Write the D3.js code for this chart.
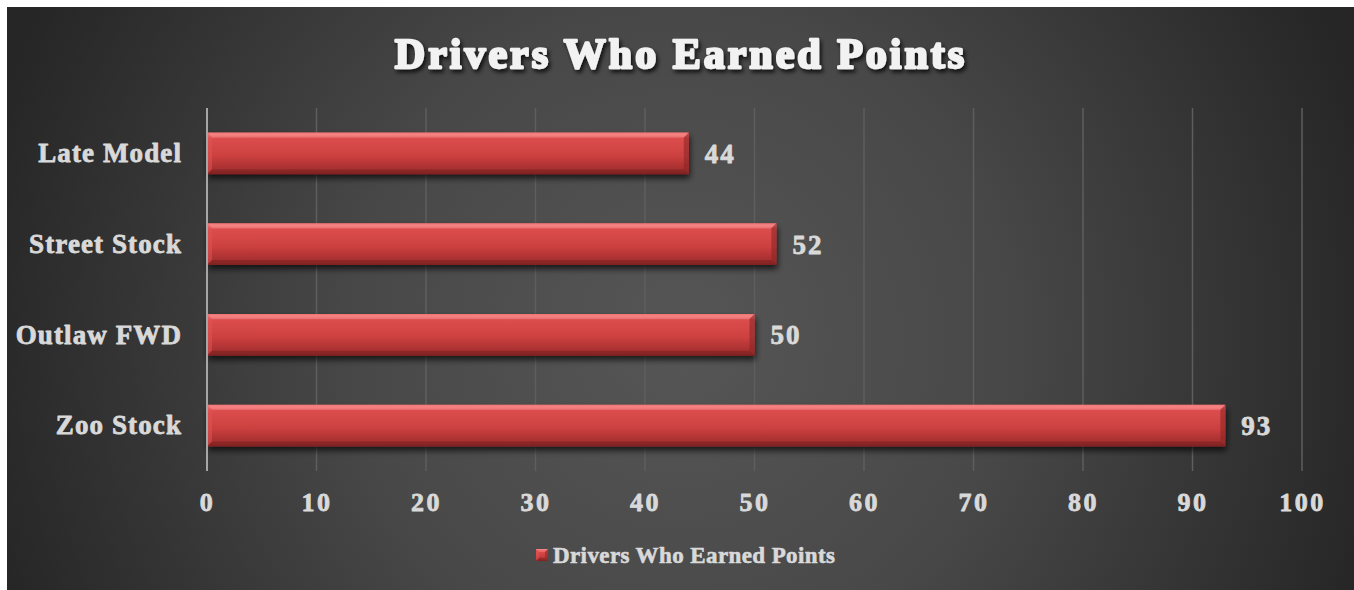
<!DOCTYPE html>
<html>
<head>
<meta charset="utf-8">
<script src="https://cdn.jsdelivr.net/npm/d3@7"></script>
<style>
  html, body { margin: 0; padding: 0; background: #fff; }
  svg { display: block; }
</style>
</head>
<body>
<svg id="chart" width="1354" height="590"></svg>
<script>
// data
const categories = ["Late Model", "Street Stock", "Outlaw FWD", "Zoo Stock"];
const values = [44, 52, 50, 93];
const xTicks = [0, 10, 20, 30, 40, 50, 60, 70, 80, 90, 100];
const seriesName = "Drivers Who Earned Points";
const titleText = "Drivers Who Earned Points";

const svg = d3.select("#chart");
const W = +svg.attr("width"), H = +svg.attr("height");
const FONT = "'Liberation Serif', 'Times New Roman', serif";

const defs = svg.append("defs");

// background radial
const bg = defs.append("radialGradient")
  .attr("id", "bg").attr("gradientUnits", "userSpaceOnUse")
  .attr("cx", 680).attr("cy", 340).attr("r", 720);
bg.append("stop").attr("offset", "0").attr("stop-color", "#565656");
bg.append("stop").attr("offset", "0.45").attr("stop-color", "#484848");
bg.append("stop").attr("offset", "1").attr("stop-color", "#262626");

// bar gradient (vertical)
const bg2 = defs.append("linearGradient").attr("id", "barFill")
  .attr("x1", 0).attr("y1", 0).attr("x2", 0).attr("y2", 1);
[[0, "#ea6060"], [0.05, "#f58282"], [0.14, "#dc4d4d"], [0.55, "#cd4141"],
 [0.72, "#ba3737"], [0.9, "#a43030"], [1, "#862424"]].forEach(s =>
  bg2.append("stop").attr("offset", s[0]).attr("stop-color", s[1]));

const shadow = defs.append("filter").attr("id", "shadow")
  .attr("x", "-5%").attr("y", "-30%").attr("width", "110%").attr("height", "170%");
shadow.append("feGaussianBlur").attr("in", "SourceAlpha").attr("stdDeviation", 3);
shadow.append("feOffset").attr("dx", 1).attr("dy", 4).attr("result", "b");
shadow.append("feComponentTransfer").append("feFuncA").attr("type", "linear").attr("slope", 0.7);
const merge = shadow.append("feMerge");
merge.append("feMergeNode");
merge.append("feMergeNode").attr("in", "SourceGraphic");

const tshadow = defs.append("filter").attr("id", "tshadow")
  .attr("x", "-5%").attr("y", "-30%").attr("width", "110%").attr("height", "170%");
tshadow.append("feGaussianBlur").attr("in", "SourceAlpha").attr("stdDeviation", 2);
tshadow.append("feOffset").attr("dx", 2).attr("dy", 3).attr("result", "b");
tshadow.append("feComponentTransfer").append("feFuncA").attr("type", "linear").attr("slope", 0.8);
const m2 = tshadow.append("feMerge");
m2.append("feMergeNode");
m2.append("feMergeNode").attr("in", "SourceGraphic");

// chart background
svg.append("rect").attr("x", 7).attr("y", 7).attr("width", W - 7).attr("height", H - 7)
  .attr("fill", "url(#bg)");

// title
svg.append("text")
  .attr("x", 681).attr("y", 68)
  .attr("text-anchor", "middle")
  .attr("font-family", FONT).attr("font-weight", "bold")
  .attr("font-size", 42).attr("letter-spacing", 3)
  .attr("fill", "#f2f2f2").attr("stroke", "#f2f2f2").attr("stroke-width", 2.4)
  .attr("stroke-linejoin", "round")
  .attr("filter", "url(#tshadow)")
  .text(titleText);

// scales
const x = d3.scaleLinear().domain([0, 100]).range([207, 1302]);
const y = d3.scaleBand().domain(categories).range([108, 471])
  .paddingInner(0.54).paddingOuter(0.27);

// gridlines
svg.append("g")
  .selectAll("line").data(xTicks.slice(1)).join("line")
  .attr("x1", d => x(d)).attr("x2", d => x(d))
  .attr("y1", 108).attr("y2", 471)
  .attr("stroke", "#5e5e5e").attr("stroke-width", 1.5);

const labelStyle = sel => sel
  .attr("font-family", FONT).attr("font-weight", "bold")
  .attr("fill", "#d9d9d9").attr("stroke", "#d9d9d9").attr("stroke-width", 0.8)
  .attr("stroke-linejoin", "round");

// x axis tick labels
const xAxis = svg.append("g")
  .attr("transform", "translate(0,471)")
  .call(d3.axisBottom(x).tickValues(xTicks).tickSize(0).tickPadding(22));
xAxis.select(".domain").remove();
xAxis.selectAll("text").call(labelStyle)
  .attr("font-size", 26).attr("letter-spacing", 2.5);

// y axis labels
const yAxis = svg.append("g")
  .attr("transform", "translate(207,0)")
  .call(d3.axisLeft(y).tickSize(0).tickPadding(25));
yAxis.select(".domain").remove();
yAxis.selectAll("text").call(labelStyle)
  .attr("font-size", 27).attr("letter-spacing", 1.1);

// bars
const bw = y.bandwidth();
const bev = 5;
const bars = svg.append("g").selectAll("g").data(categories).join("g")
  .attr("filter", "url(#shadow)");
bars.append("rect")
  .attr("x", x(0)).attr("y", d => y(d))
  .attr("width", (d, i) => x(values[i]) - x(0)).attr("height", bw)
  .attr("fill", "url(#barFill)");
// bevel edges
function bevel(sel, x0, y0, x1, y1, b) {
  sel.append("polygon").attr("points", [[x0, y0], [x1, y0], [x1 - b, y0 + b], [x0 + b, y0 + b]].join(" "))
    .attr("fill", "#f58585").attr("opacity", 0.5);
  sel.append("polygon").attr("points", [[x0, y0], [x0 + b, y0 + b], [x0 + b, y1 - b], [x0, y1]].join(" "))
    .attr("fill", "#e25656").attr("opacity", 0.5);
  sel.append("polygon").attr("points", [[x1, y0], [x1, y1], [x1 - b, y1 - b], [x1 - b, y0 + b]].join(" "))
    .attr("fill", "#8e2727").attr("opacity", 0.6);
  sel.append("polygon").attr("points", [[x0, y1], [x0 + b, y1 - b], [x1 - b, y1 - b], [x1, y1]].join(" "))
    .attr("fill", "#7a1f1f").attr("opacity", 0.5);
}
bars.each(function (d, i) {
  bevel(d3.select(this), x(0), y(d), x(values[i]), y(d) + bw, bev);
});

// zero axis line
svg.append("line")
  .attr("x1", x(0)).attr("x2", x(0)).attr("y1", 108).attr("y2", 471)
  .attr("stroke", "#a6a6a6").attr("stroke-width", 2);

// value labels
svg.append("g").selectAll("text").data(categories).join("text")
  .attr("x", (d, i) => x(values[i]) + 16)
  .attr("y", d => y(d) + bw / 2)
  .attr("dy", "0.35em")
  .call(labelStyle)
  .attr("font-size", 27).attr("letter-spacing", 2)
  .text((d, i) => values[i]);

// legend
const lg = svg.append("g").attr("transform", "translate(536,549)");
lg.append("rect").attr("width", 12).attr("height", 12).attr("fill", "url(#barFill)");
bevel(lg, 0, 0, 12, 12, 3);
lg.append("text")
  .attr("x", 17).attr("y", 6).attr("dy", "0.35em")
  .call(labelStyle)
  .attr("stroke-width", 0.6)
  .attr("font-size", 23).attr("letter-spacing", 0.4)
  .text(seriesName);
</script>
</body>
</html>
